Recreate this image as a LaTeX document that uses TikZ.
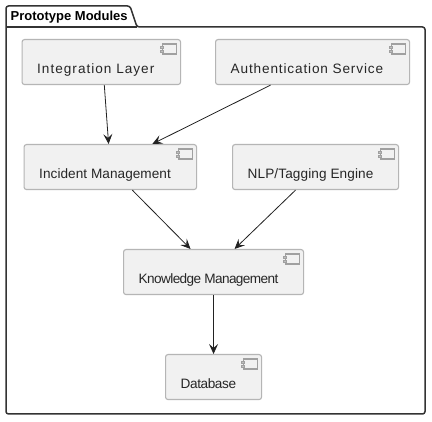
\documentclass[tikz,border=0pt]{standalone}
\usepackage{fontspec}
\setmainfont{Liberation Sans}
\usetikzlibrary{arrows.meta}
\definecolor{boxfill}{HTML}{F1F1F1}
\definecolor{boxline}{HTML}{B5B5B5}
\definecolor{iconline}{HTML}{A0A0A0}
\definecolor{frameline}{HTML}{333333}
\definecolor{arrowline}{HTML}{222222}
\tikzset{
  x=1pt,y=-1pt,
  compbox/.style={draw=boxline,line width=1.1pt,fill=boxfill,rounded corners=2.5pt,inner sep=0pt,anchor=north west},
  complabel/.style={anchor=base west,inner sep=0pt,font=\fontsize{13.6pt}{16pt}\selectfont,text=black!85},
  iconbody/.style={draw=iconline,line width=1.1pt,fill=boxfill},
  iconport/.style={draw=iconline,line width=.8pt,fill=iconline!70},
  flow/.style={draw=arrowline,line width=.8pt,-{Stealth[length=10pt,width=9pt,inset=4pt]}},
  frame/.style={draw=frameline,line width=1.5pt,rounded corners=2.5pt},
}
\newcommand{\compnode}[6]{%
  \node[compbox,minimum width=#4 pt,minimum height=45pt] (#1) at (#2,#3) {};
  \node[complabel] (#1-text) at ([xshift=15.5pt,yshift=12pt]#1.south west) {\addfontfeature{LetterSpace=#6}#5};
  \draw[iconbody] ([xshift=-19pt,yshift=-5pt]#1.north east) rectangle ([xshift=-5pt,yshift=-15pt]#1.north east);
  \draw[iconport] ([xshift=-21pt,yshift=-7pt]#1.north east) rectangle ([xshift=-18pt,yshift=-9pt]#1.north east);
  \draw[iconport] ([xshift=-21pt,yshift=-11pt]#1.north east) rectangle ([xshift=-18pt,yshift=-13pt]#1.north east);
}
\begin{document}
\begin{tikzpicture}
\useasboundingbox (0,0) rectangle (432,422);
\fill[white] (0,0) rectangle (432,422);
\draw[frame] (6,27) -- (6,414) -- (425,414) -- (425,27) -- (137,27) -- (130,6) -- (6,6) -- cycle;
\draw[frame,rounded corners=0pt] (6,27) -- (137,27);
\node[anchor=base west,inner sep=0pt,font=\fontsize{13pt}{15pt}\selectfont\bfseries] (title) at (10.5,21) {Prototype Modules};
\compnode{integ}{21.5}{39}{158.5}{Integration Layer}{7.4}
\compnode{auth}{215}{39}{194}{Authentication Service}{6.3}
\compnode{incid}{23.5}{144}{172.5}{Incident Management}{0.4}
\compnode{nlp}{232}{144}{166}{NLP/Tagging Engine}{0.8}
\compnode{know}{123}{249}{180}{Knowledge Management}{-4.4}
\compnode{db}{165}{354}{96}{Database}{-3}
\draw[flow] ([xshift=3pt]integ.south) -- ([xshift=-1.7pt]incid.north);
\draw[flow] ([xshift=-42pt]auth.south) -- ([xshift=42pt]incid.north);
\draw[flow] ([xshift=22pt]incid.south) -- ([xshift=-23pt]know.north);
\draw[flow] ([xshift=-20pt]nlp.south) -- ([xshift=21pt]know.north);
\draw[flow] (know.south) -- (db.north);
\end{tikzpicture}
\end{document}
